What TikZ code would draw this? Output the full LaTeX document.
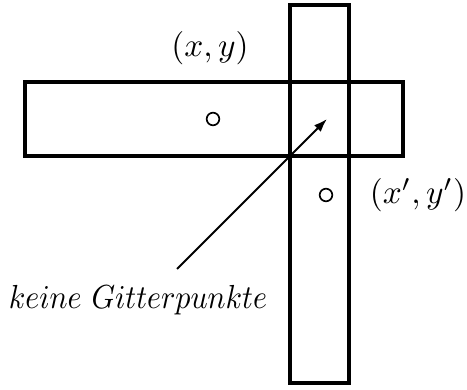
\documentclass[tikz,border=0pt]{standalone}
\usetikzlibrary{arrows.meta}
\begin{document}
\begin{tikzpicture}[x=0.3pt,y=0.3pt]
\useasboundingbox (0,0) rectangle (467,390);
\coordinate (HL) at (25,234);
\coordinate (HR) at (403,308);
\coordinate (VL) at (290,7);
\coordinate (VR) at (349,385);
\draw[line width=1pt] (HL) rectangle (HR);
\draw[line width=1pt] (VL) rectangle (VR);
\draw[line width=0.5pt] (213,271) circle[radius=1.9pt];
\draw[line width=0.5pt] (326,195) circle[radius=1.9pt];
\node (p) at (210,342) {$(x,y)$};
\node (q) at (418,195) {$(x',y')$};
\node[inner sep=0pt,xscale=0.9] (kg) at (138,90) {$keine\ Gitterpunkte$};
\coordinate (A) at (177,121);
\coordinate (B) at (327,271);
\draw[line width=0.6pt,-{Latex[length=4pt,width=2.8pt]}] (A) -- (B);
\end{tikzpicture}
\end{document}
